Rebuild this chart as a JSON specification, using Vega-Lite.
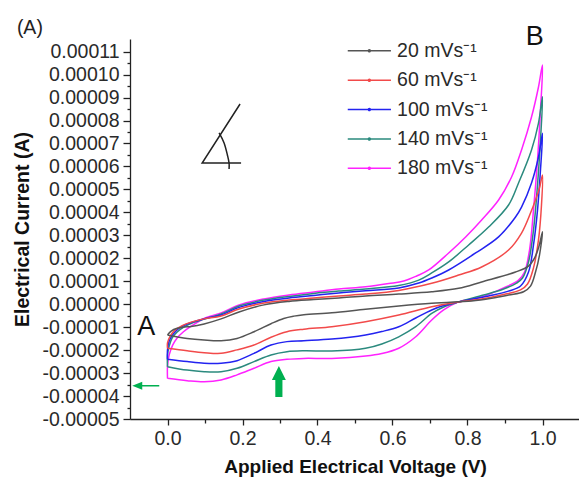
{
  "$schema": "https://vega.github.io/schema/vega-lite/v6.json",
  "width": 450,
  "height": 380,
  "autosize": {"type": "none"},
  "padding": {"left": 130, "top": 39, "right": 0, "bottom": 64},
  "background": "white",
  "config": {
    "view": {"stroke": null},
    "font": "Liberation Sans",
    "text": {"font": "Liberation Sans"}
  },
  "datasets": {
    "cv": [
      {"rate":"180 mVs⁻¹","i":0,"V":0,"I":-3.23e-5},
      {"rate":"180 mVs⁻¹","i":1,"V":0,"I":-2.69e-5},
      {"rate":"180 mVs⁻¹","i":2,"V":0.0045,"I":-2.21e-5},
      {"rate":"180 mVs⁻¹","i":3,"V":0.0138,"I":-1.78e-5},
      {"rate":"180 mVs⁻¹","i":4,"V":0.0258,"I":-1.47e-5},
      {"rate":"180 mVs⁻¹","i":5,"V":0.0418,"I":-1.21e-5},
      {"rate":"180 mVs⁻¹","i":6,"V":0.0604,"I":-0.99e-5},
      {"rate":"180 mVs⁻¹","i":7,"V":0.1003,"I":-0.60e-5},
      {"rate":"180 mVs⁻¹","i":8,"V":0.1429,"I":-0.38e-5},
      {"rate":"180 mVs⁻¹","i":9,"V":0.1908,"I":-0.03e-5},
      {"rate":"180 mVs⁻¹","i":10,"V":0.2573,"I":0.23e-5},
      {"rate":"180 mVs⁻¹","i":11,"V":0.3238,"I":0.40e-5},
      {"rate":"180 mVs⁻¹","i":12,"V":0.3903,"I":0.53e-5},
      {"rate":"180 mVs⁻¹","i":13,"V":0.4568,"I":0.66e-5},
      {"rate":"180 mVs⁻¹","i":14,"V":0.5281,"I":0.76e-5},
      {"rate":"180 mVs⁻¹","i":15,"V":0.5901,"I":0.90e-5},
      {"rate":"180 mVs⁻¹","i":16,"V":0.63,"I":1.01e-5},
      {"rate":"180 mVs⁻¹","i":17,"V":0.6646,"I":1.23e-5},
      {"rate":"180 mVs⁻¹","i":18,"V":0.6966,"I":1.49e-5},
      {"rate":"180 mVs⁻¹","i":19,"V":0.7498,"I":2.23e-5},
      {"rate":"180 mVs⁻¹","i":20,"V":0.7951,"I":2.93e-5},
      {"rate":"180 mVs⁻¹","i":21,"V":0.8377,"I":3.67e-5},
      {"rate":"180 mVs⁻¹","i":22,"V":0.8829,"I":4.54e-5},
      {"rate":"180 mVs⁻¹","i":23,"V":0.9175,"I":5.54e-5},
      {"rate":"180 mVs⁻¹","i":24,"V":0.9441,"I":6.72e-5},
      {"rate":"180 mVs⁻¹","i":25,"V":0.9707,"I":8.15e-5},
      {"rate":"180 mVs⁻¹","i":26,"V":0.9893,"I":9.46e-5},
      {"rate":"180 mVs⁻¹","i":27,"V":1.0,"I":10.42e-5},
      {"rate":"180 mVs⁻¹","i":28,"V":0.9946,"I":8.46e-5},
      {"rate":"180 mVs⁻¹","i":29,"V":0.9867,"I":6.28e-5},
      {"rate":"180 mVs⁻¹","i":30,"V":0.976,"I":4.10e-5},
      {"rate":"180 mVs⁻¹","i":31,"V":0.9654,"I":2.36e-5},
      {"rate":"180 mVs⁻¹","i":32,"V":0.9521,"I":1.40e-5},
      {"rate":"180 mVs⁻¹","i":33,"V":0.9361,"I":1.05e-5},
      {"rate":"180 mVs⁻¹","i":34,"V":0.8962,"I":0.71e-5},
      {"rate":"180 mVs⁻¹","i":35,"V":0.8377,"I":0.31e-5},
      {"rate":"180 mVs⁻¹","i":36,"V":0.7765,"I":0.10e-5},
      {"rate":"180 mVs⁻¹","i":37,"V":0.7365,"I":-0.25e-5},
      {"rate":"180 mVs⁻¹","i":38,"V":0.7046,"I":-0.69e-5},
      {"rate":"180 mVs⁻¹","i":39,"V":0.662,"I":-1.42e-5},
      {"rate":"180 mVs⁻¹","i":40,"V":0.6167,"I":-1.92e-5},
      {"rate":"180 mVs⁻¹","i":41,"V":0.5715,"I":-2.15e-5},
      {"rate":"180 mVs⁻¹","i":42,"V":0.5281,"I":-2.26e-5},
      {"rate":"180 mVs⁻¹","i":43,"V":0.4382,"I":-2.36e-5},
      {"rate":"180 mVs⁻¹","i":44,"V":0.3637,"I":-2.36e-5},
      {"rate":"180 mVs⁻¹","i":45,"V":0.3185,"I":-2.40e-5},
      {"rate":"180 mVs⁻¹","i":46,"V":0.276,"I":-2.50e-5},
      {"rate":"180 mVs⁻¹","i":47,"V":0.2307,"I":-2.79e-5},
      {"rate":"180 mVs⁻¹","i":48,"V":0.1855,"I":-3.08e-5},
      {"rate":"180 mVs⁻¹","i":49,"V":0.1429,"I":-3.30e-5},
      {"rate":"180 mVs⁻¹","i":50,"V":0.0977,"I":-3.38e-5},
      {"rate":"180 mVs⁻¹","i":51,"V":0.0524,"I":-3.33e-5},
      {"rate":"180 mVs⁻¹","i":52,"V":0,"I":-3.23e-5},

      {"rate":"140 mVs⁻¹","i":0,"V":0,"I":-2.72e-5},
      {"rate":"140 mVs⁻¹","i":1,"V":0,"I":-2.21e-5},
      {"rate":"140 mVs⁻¹","i":2,"V":0.0045,"I":-1.82e-5},
      {"rate":"140 mVs⁻¹","i":3,"V":0.0125,"I":-1.47e-5},
      {"rate":"140 mVs⁻¹","i":4,"V":0.0258,"I":-1.21e-5},
      {"rate":"140 mVs⁻¹","i":5,"V":0.0445,"I":-0.99e-5},
      {"rate":"140 mVs⁻¹","i":6,"V":0.0657,"I":-0.82e-5},
      {"rate":"140 mVs⁻¹","i":7,"V":0.1003,"I":-0.64e-5},
      {"rate":"140 mVs⁻¹","i":8,"V":0.1429,"I":-0.43e-5},
      {"rate":"140 mVs⁻¹","i":9,"V":0.1908,"I":-0.08e-5},
      {"rate":"140 mVs⁻¹","i":10,"V":0.2573,"I":0.18e-5},
      {"rate":"140 mVs⁻¹","i":11,"V":0.3238,"I":0.34e-5},
      {"rate":"140 mVs⁻¹","i":12,"V":0.3903,"I":0.47e-5},
      {"rate":"140 mVs⁻¹","i":13,"V":0.4568,"I":0.57e-5},
      {"rate":"140 mVs⁻¹","i":14,"V":0.5281,"I":0.66e-5},
      {"rate":"140 mVs⁻¹","i":15,"V":0.6167,"I":0.81e-5},
      {"rate":"140 mVs⁻¹","i":16,"V":0.67,"I":1.05e-5},
      {"rate":"140 mVs⁻¹","i":17,"V":0.7046,"I":1.36e-5},
      {"rate":"140 mVs⁻¹","i":18,"V":0.7498,"I":1.84e-5},
      {"rate":"140 mVs⁻¹","i":19,"V":0.8031,"I":2.58e-5},
      {"rate":"140 mVs⁻¹","i":20,"V":0.8563,"I":3.36e-5},
      {"rate":"140 mVs⁻¹","i":21,"V":0.9095,"I":4.32e-5},
      {"rate":"140 mVs⁻¹","i":22,"V":0.9361,"I":5.28e-5},
      {"rate":"140 mVs⁻¹","i":23,"V":0.9707,"I":6.72e-5},
      {"rate":"140 mVs⁻¹","i":24,"V":0.9893,"I":7.89e-5},
      {"rate":"140 mVs⁻¹","i":25,"V":1.0,"I":9.04e-5},
      {"rate":"140 mVs⁻¹","i":26,"V":0.9946,"I":7.15e-5},
      {"rate":"140 mVs⁻¹","i":27,"V":0.9867,"I":5.19e-5},
      {"rate":"140 mVs⁻¹","i":28,"V":0.976,"I":3.23e-5},
      {"rate":"140 mVs⁻¹","i":29,"V":0.9627,"I":1.84e-5},
      {"rate":"140 mVs⁻¹","i":30,"V":0.9467,"I":1.14e-5},
      {"rate":"140 mVs⁻¹","i":31,"V":0.9308,"I":0.92e-5},
      {"rate":"140 mVs⁻¹","i":32,"V":0.8962,"I":0.66e-5},
      {"rate":"140 mVs⁻¹","i":33,"V":0.843,"I":0.40e-5},
      {"rate":"140 mVs⁻¹","i":34,"V":0.7765,"I":0.10e-5},
      {"rate":"140 mVs⁻¹","i":35,"V":0.7365,"I":-0.12e-5},
      {"rate":"140 mVs⁻¹","i":36,"V":0.7046,"I":-0.40e-5},
      {"rate":"140 mVs⁻¹","i":37,"V":0.662,"I":-0.98e-5},
      {"rate":"140 mVs⁻¹","i":38,"V":0.6167,"I":-1.42e-5},
      {"rate":"140 mVs⁻¹","i":39,"V":0.5715,"I":-1.73e-5},
      {"rate":"140 mVs⁻¹","i":40,"V":0.5281,"I":-1.92e-5},
      {"rate":"140 mVs⁻¹","i":41,"V":0.4382,"I":-2.04e-5},
      {"rate":"140 mVs⁻¹","i":42,"V":0.3637,"I":-2.03e-5},
      {"rate":"140 mVs⁻¹","i":43,"V":0.3185,"I":-2.07e-5},
      {"rate":"140 mVs⁻¹","i":44,"V":0.276,"I":-2.21e-5},
      {"rate":"140 mVs⁻¹","i":45,"V":0.2307,"I":-2.50e-5},
      {"rate":"140 mVs⁻¹","i":46,"V":0.1855,"I":-2.79e-5},
      {"rate":"140 mVs⁻¹","i":47,"V":0.1429,"I":-2.94e-5},
      {"rate":"140 mVs⁻¹","i":48,"V":0.0977,"I":-2.94e-5},
      {"rate":"140 mVs⁻¹","i":49,"V":0.0524,"I":-2.87e-5},
      {"rate":"140 mVs⁻¹","i":50,"V":0,"I":-2.72e-5},

      {"rate":"100 mVs⁻¹","i":0,"V":0,"I":-2.40e-5},
      {"rate":"100 mVs⁻¹","i":1,"V":0,"I":-1.99e-5},
      {"rate":"100 mVs⁻¹","i":2,"V":0.0045,"I":-1.60e-5},
      {"rate":"100 mVs⁻¹","i":3,"V":0.0152,"I":-1.30e-5},
      {"rate":"100 mVs⁻¹","i":4,"V":0.0311,"I":-1.04e-5},
      {"rate":"100 mVs⁻¹","i":5,"V":0.0524,"I":-0.86e-5},
      {"rate":"100 mVs⁻¹","i":6,"V":0.0764,"I":-0.73e-5},
      {"rate":"100 mVs⁻¹","i":7,"V":0.1057,"I":-0.60e-5},
      {"rate":"100 mVs⁻¹","i":8,"V":0.1429,"I":-0.47e-5},
      {"rate":"100 mVs⁻¹","i":9,"V":0.1908,"I":-0.14e-5},
      {"rate":"100 mVs⁻¹","i":10,"V":0.2573,"I":0.12e-5},
      {"rate":"100 mVs⁻¹","i":11,"V":0.3238,"I":0.27e-5},
      {"rate":"100 mVs⁻¹","i":12,"V":0.3903,"I":0.38e-5},
      {"rate":"100 mVs⁻¹","i":13,"V":0.4568,"I":0.49e-5},
      {"rate":"100 mVs⁻¹","i":14,"V":0.5281,"I":0.59e-5},
      {"rate":"100 mVs⁻¹","i":15,"V":0.6167,"I":0.71e-5},
      {"rate":"100 mVs⁻¹","i":16,"V":0.67,"I":0.92e-5},
      {"rate":"100 mVs⁻¹","i":17,"V":0.7046,"I":1.14e-5},
      {"rate":"100 mVs⁻¹","i":18,"V":0.7498,"I":1.49e-5},
      {"rate":"100 mVs⁻¹","i":19,"V":0.8217,"I":2.23e-5},
      {"rate":"100 mVs⁻¹","i":20,"V":0.8829,"I":2.93e-5},
      {"rate":"100 mVs⁻¹","i":21,"V":0.9281,"I":3.80e-5},
      {"rate":"100 mVs⁻¹","i":22,"V":0.9441,"I":4.23e-5},
      {"rate":"100 mVs⁻¹","i":23,"V":0.9707,"I":5.28e-5},
      {"rate":"100 mVs⁻¹","i":24,"V":0.9893,"I":6.41e-5},
      {"rate":"100 mVs⁻¹","i":25,"V":1.0,"I":7.44e-5},
      {"rate":"100 mVs⁻¹","i":26,"V":0.9946,"I":5.84e-5},
      {"rate":"100 mVs⁻¹","i":27,"V":0.9867,"I":4.10e-5},
      {"rate":"100 mVs⁻¹","i":28,"V":0.976,"I":2.58e-5},
      {"rate":"100 mVs⁻¹","i":29,"V":0.9627,"I":1.40e-5},
      {"rate":"100 mVs⁻¹","i":30,"V":0.9414,"I":0.79e-5},
      {"rate":"100 mVs⁻¹","i":31,"V":0.9095,"I":0.57e-5},
      {"rate":"100 mVs⁻¹","i":32,"V":0.8563,"I":0.36e-5},
      {"rate":"100 mVs⁻¹","i":33,"V":0.7765,"I":0.10e-5},
      {"rate":"100 mVs⁻¹","i":34,"V":0.7365,"I":-0.06e-5},
      {"rate":"100 mVs⁻¹","i":35,"V":0.7046,"I":-0.25e-5},
      {"rate":"100 mVs⁻¹","i":36,"V":0.662,"I":-0.60e-5},
      {"rate":"100 mVs⁻¹","i":37,"V":0.6167,"I":-0.98e-5},
      {"rate":"100 mVs⁻¹","i":38,"V":0.5715,"I":-1.19e-5},
      {"rate":"100 mVs⁻¹","i":39,"V":0.5281,"I":-1.34e-5},
      {"rate":"100 mVs⁻¹","i":40,"V":0.4382,"I":-1.52e-5},
      {"rate":"100 mVs⁻¹","i":41,"V":0.3637,"I":-1.59e-5},
      {"rate":"100 mVs⁻¹","i":42,"V":0.3185,"I":-1.63e-5},
      {"rate":"100 mVs⁻¹","i":43,"V":0.276,"I":-1.78e-5},
      {"rate":"100 mVs⁻¹","i":44,"V":0.2307,"I":-2.14e-5},
      {"rate":"100 mVs⁻¹","i":45,"V":0.1855,"I":-2.46e-5},
      {"rate":"100 mVs⁻¹","i":46,"V":0.1429,"I":-2.57e-5},
      {"rate":"100 mVs⁻¹","i":47,"V":0.0977,"I":-2.57e-5},
      {"rate":"100 mVs⁻¹","i":48,"V":0.0524,"I":-2.50e-5},
      {"rate":"100 mVs⁻¹","i":49,"V":0,"I":-2.40e-5},

      {"rate":"60 mVs⁻¹","i":0,"V":0,"I":-1.92e-5},
      {"rate":"60 mVs⁻¹","i":1,"V":0,"I":-1.69e-5},
      {"rate":"60 mVs⁻¹","i":2,"V":0.0072,"I":-1.39e-5},
      {"rate":"60 mVs⁻¹","i":3,"V":0.0205,"I":-1.12e-5},
      {"rate":"60 mVs⁻¹","i":4,"V":0.0391,"I":-0.93e-5},
      {"rate":"60 mVs⁻¹","i":5,"V":0.0631,"I":-0.78e-5},
      {"rate":"60 mVs⁻¹","i":6,"V":0.0977,"I":-0.64e-5},
      {"rate":"60 mVs⁻¹","i":7,"V":0.1429,"I":-0.51e-5},
      {"rate":"60 mVs⁻¹","i":8,"V":0.1908,"I":-0.21e-5},
      {"rate":"60 mVs⁻¹","i":9,"V":0.2573,"I":0.05e-5},
      {"rate":"60 mVs⁻¹","i":10,"V":0.3238,"I":0.18e-5},
      {"rate":"60 mVs⁻¹","i":11,"V":0.3903,"I":0.27e-5},
      {"rate":"60 mVs⁻¹","i":12,"V":0.4568,"I":0.36e-5},
      {"rate":"60 mVs⁻¹","i":13,"V":0.5281,"I":0.44e-5},
      {"rate":"60 mVs⁻¹","i":14,"V":0.6167,"I":0.60e-5},
      {"rate":"60 mVs⁻¹","i":15,"V":0.7046,"I":0.91e-5},
      {"rate":"60 mVs⁻¹","i":16,"V":0.7765,"I":1.27e-5},
      {"rate":"60 mVs⁻¹","i":17,"V":0.8377,"I":1.62e-5},
      {"rate":"60 mVs⁻¹","i":18,"V":0.9095,"I":2.36e-5},
      {"rate":"60 mVs⁻¹","i":19,"V":0.9441,"I":3.10e-5},
      {"rate":"60 mVs⁻¹","i":20,"V":0.968,"I":3.97e-5},
      {"rate":"60 mVs⁻¹","i":21,"V":0.9814,"I":4.54e-5},
      {"rate":"60 mVs⁻¹","i":22,"V":0.992,"I":5.06e-5},
      {"rate":"60 mVs⁻¹","i":23,"V":1.0,"I":5.63e-5},
      {"rate":"60 mVs⁻¹","i":24,"V":0.9973,"I":4.32e-5},
      {"rate":"60 mVs⁻¹","i":25,"V":0.9893,"I":2.80e-5},
      {"rate":"60 mVs⁻¹","i":26,"V":0.976,"I":1.58e-5},
      {"rate":"60 mVs⁻¹","i":27,"V":0.9601,"I":0.88e-5},
      {"rate":"60 mVs⁻¹","i":28,"V":0.9414,"I":0.62e-5},
      {"rate":"60 mVs⁻¹","i":29,"V":0.8962,"I":0.42e-5},
      {"rate":"60 mVs⁻¹","i":30,"V":0.8297,"I":0.20e-5},
      {"rate":"60 mVs⁻¹","i":31,"V":0.7765,"I":0.10e-5},
      {"rate":"60 mVs⁻¹","i":32,"V":0.7046,"I":-0.11e-5},
      {"rate":"60 mVs⁻¹","i":33,"V":0.6167,"I":-0.47e-5},
      {"rate":"60 mVs⁻¹","i":34,"V":0.5281,"I":-0.76e-5},
      {"rate":"60 mVs⁻¹","i":35,"V":0.4382,"I":-0.98e-5},
      {"rate":"60 mVs⁻¹","i":36,"V":0.3637,"I":-1.09e-5},
      {"rate":"60 mVs⁻¹","i":37,"V":0.3185,"I":-1.20e-5},
      {"rate":"60 mVs⁻¹","i":38,"V":0.276,"I":-1.44e-5},
      {"rate":"60 mVs⁻¹","i":39,"V":0.2307,"I":-1.78e-5},
      {"rate":"60 mVs⁻¹","i":40,"V":0.1855,"I":-1.99e-5},
      {"rate":"60 mVs⁻¹","i":41,"V":0.1429,"I":-2.14e-5},
      {"rate":"60 mVs⁻¹","i":42,"V":0.0977,"I":-2.11e-5},
      {"rate":"60 mVs⁻¹","i":43,"V":0.0524,"I":-2.03e-5},
      {"rate":"60 mVs⁻¹","i":44,"V":0,"I":-1.92e-5},

      {"rate":"20 mVs⁻¹","i":0,"V":0,"I":-1.34e-5},
      {"rate":"20 mVs⁻¹","i":1,"V":0.0098,"I":-1.17e-5},
      {"rate":"20 mVs⁻¹","i":2,"V":0.0258,"I":-1.05e-5},
      {"rate":"20 mVs⁻¹","i":3,"V":0.0445,"I":-0.99e-5},
      {"rate":"20 mVs⁻¹","i":4,"V":0.0631,"I":-0.97e-5},
      {"rate":"20 mVs⁻¹","i":5,"V":0.0977,"I":-0.86e-5},
      {"rate":"20 mVs⁻¹","i":6,"V":0.1429,"I":-0.64e-5},
      {"rate":"20 mVs⁻¹","i":7,"V":0.1908,"I":-0.34e-5},
      {"rate":"20 mVs⁻¹","i":8,"V":0.2573,"I":-0.03e-5},
      {"rate":"20 mVs⁻¹","i":9,"V":0.3238,"I":0.12e-5},
      {"rate":"20 mVs⁻¹","i":10,"V":0.3903,"I":0.20e-5},
      {"rate":"20 mVs⁻¹","i":11,"V":0.4568,"I":0.27e-5},
      {"rate":"20 mVs⁻¹","i":12,"V":0.5281,"I":0.36e-5},
      {"rate":"20 mVs⁻¹","i":13,"V":0.6167,"I":0.44e-5},
      {"rate":"20 mVs⁻¹","i":14,"V":0.7046,"I":0.54e-5},
      {"rate":"20 mVs⁻¹","i":15,"V":0.7765,"I":0.69e-5},
      {"rate":"20 mVs⁻¹","i":16,"V":0.8377,"I":0.97e-5},
      {"rate":"20 mVs⁻¹","i":17,"V":0.9281,"I":1.40e-5},
      {"rate":"20 mVs⁻¹","i":18,"V":0.9627,"I":1.66e-5},
      {"rate":"20 mVs⁻¹","i":19,"V":0.9787,"I":2.01e-5},
      {"rate":"20 mVs⁻¹","i":20,"V":0.9893,"I":2.45e-5},
      {"rate":"20 mVs⁻¹","i":21,"V":1.0,"I":3.16e-5},
      {"rate":"20 mVs⁻¹","i":22,"V":0.992,"I":2.14e-5},
      {"rate":"20 mVs⁻¹","i":23,"V":0.9814,"I":1.40e-5},
      {"rate":"20 mVs⁻¹","i":24,"V":0.968,"I":0.79e-5},
      {"rate":"20 mVs⁻¹","i":25,"V":0.9494,"I":0.54e-5},
      {"rate":"20 mVs⁻¹","i":26,"V":0.9095,"I":0.40e-5},
      {"rate":"20 mVs⁻¹","i":27,"V":0.8643,"I":0.26e-5},
      {"rate":"20 mVs⁻¹","i":28,"V":0.8111,"I":0.14e-5},
      {"rate":"20 mVs⁻¹","i":29,"V":0.7765,"I":0.11e-5},
      {"rate":"20 mVs⁻¹","i":30,"V":0.7046,"I":0.04e-5},
      {"rate":"20 mVs⁻¹","i":31,"V":0.6167,"I":-0.08e-5},
      {"rate":"20 mVs⁻¹","i":32,"V":0.5281,"I":-0.22e-5},
      {"rate":"20 mVs⁻¹","i":33,"V":0.4382,"I":-0.37e-5},
      {"rate":"20 mVs⁻¹","i":34,"V":0.3637,"I":-0.46e-5},
      {"rate":"20 mVs⁻¹","i":35,"V":0.3370,"I":-0.52e-5},
      {"rate":"20 mVs⁻¹","i":36,"V":0.3100,"I":-0.62e-5},
      {"rate":"20 mVs⁻¹","i":37,"V":0.276,"I":-0.85e-5},
      {"rate":"20 mVs⁻¹","i":38,"V":0.2307,"I":-1.20e-5},
      {"rate":"20 mVs⁻¹","i":39,"V":0.1855,"I":-1.49e-5},
      {"rate":"20 mVs⁻¹","i":40,"V":0.1429,"I":-1.59e-5},
      {"rate":"20 mVs⁻¹","i":41,"V":0.0977,"I":-1.56e-5},
      {"rate":"20 mVs⁻¹","i":42,"V":0.0524,"I":-1.49e-5},
      {"rate":"20 mVs⁻¹","i":43,"V":0,"I":-1.34e-5}
    ],
    "angle": [
      {"seg":"a","i":0,"V":0.1935,"I":8.72e-5},
      {"seg":"a","i":1,"V":0.0924,"I":6.15e-5},
      {"seg":"a","i":2,"V":0.1962,"I":6.15e-5}
    ],
    "arc": [
      {"i":0,"V":0.1376,"I":7.46e-5},
      {"i":1,"V":0.1509,"I":7.02e-5},
      {"i":2,"V":0.1597,"I":6.50e-5},
      {"i":3,"V":0.1642,"I":6.15e-5},
      {"i":4,"V":0.1642,"I":5.89e-5}
    ]
  },
  "encoding": {
    "x": {
      "field": "V", "type": "quantitative",
      "scale": {"domain": [-0.1, 1.1], "nice": false, "zero": false},
      "axis": {
        "title": "Applied Electrical Voltage (V)",
        "values": [0, 0.1, 0.2, 0.3, 0.4, 0.5, 0.6, 0.7, 0.8, 0.9, 1.0],
        "labelExpr": "round(datum.value*10) % 2 == 1 ? '' : format(datum.value, '.1f')",
        "tickSize": {"condition": {"test": "round(datum.value*10) % 2 == 1", "value": 4}, "value": 6},
        "grid": false,
        "labelFont": "Liberation Sans", "labelFontSize": 19.5, "labelColor": "#2a2a2a",
        "labelPadding": 4, "labelFlush": false, "labelOverlap": false,
        "titleFont": "Liberation Sans", "titleFontSize": 19, "titleFontWeight": "bold", "titleColor": "#111",
        "titlePadding": 10,
        "domainColor": "#222", "tickColor": "#222", "domainWidth": 1.3, "tickWidth": 1.3
      }
    },
    "y": {
      "field": "I", "type": "quantitative",
      "scale": {"domain": [-0.00005, 0.0001155], "nice": false, "zero": false},
      "axis": {
        "title": "Electrical Current (A)",
        "values": [-5e-5, -4.5e-5, -4e-5, -3.5e-5, -3e-5, -2.5e-5, -2e-5, -1.5e-5, -1e-5, -0.5e-5, 0, 0.5e-5, 1e-5, 1.5e-5, 2e-5, 2.5e-5, 3e-5, 3.5e-5, 4e-5, 4.5e-5, 5e-5, 5.5e-5, 6e-5, 6.5e-5, 7e-5, 7.5e-5, 8e-5, 8.5e-5, 9e-5, 9.5e-5, 10e-5, 10.5e-5, 11e-5],
        "labelExpr": "abs(round(datum.value*1e6)) % 10 == 5 ? '' : replace(format(datum.value, '.5f'), '−', '-')",
        "tickSize": {"condition": {"test": "abs(round(datum.value*1e6)) % 10 == 5", "value": 3}, "value": 7},
        "grid": false,
        "labelFont": "Liberation Sans", "labelFontSize": 19.5, "labelColor": "#2a2a2a",
        "labelPadding": 4, "labelFlush": false, "labelOverlap": false,
        "titleFont": "Liberation Sans", "titleFontSize": 19.5, "titleFontWeight": "bold", "titleColor": "#111",
        "titlePadding": 10,
        "domainColor": "#222", "tickColor": "#222", "domainWidth": 1.3, "tickWidth": 1.3
      }
    }
  },
  "layer": [
    {
      "data": {"name": "cv"},
      "mark": {"type": "line", "strokeWidth": 1.5, "interpolate": "catmull-rom", "clip": false},
      "encoding": {
        "order": {"field": "i", "type": "quantitative"},
        "color": {
          "field": "rate", "type": "nominal",
          "scale": {
            "domain": ["20 mVs⁻¹", "60 mVs⁻¹", "100 mVs⁻¹", "140 mVs⁻¹", "180 mVs⁻¹"],
            "range": ["#555555", "#f24a4a", "#2323f0", "#2b8a7e", "#ff22ff"]
          },
          "legend": {
            "orient": "none", "legendX": 229.6, "legendY": 2,
            "title": null, "padding": 0,
            "symbolType": "M-5.4,0L5.4,0M-0.25,0A0.25,0.25 0 1,0 0.25,0A0.25,0.25 0 1,0 -0.25,0",
            "symbolSize": 64, "symbolStrokeWidth": 1.5,
            "labelFont": "Liberation Sans", "labelFontSize": 19.5, "labelColor": "#2a2a2a",
            "labelOffset": 18, "rowPadding": 8.4
          }
        }
      }
    },
    {
      "data": {"name": "angle"},
      "mark": {"type": "line", "color": "#222", "strokeWidth": 1.5},
      "encoding": {"order": {"field": "i", "type": "quantitative"}}
    },
    {
      "data": {"name": "arc"},
      "mark": {"type": "line", "color": "#222", "strokeWidth": 1.5, "interpolate": "natural"},
      "encoding": {"order": {"field": "i", "type": "quantitative"}}
    },
    {
      "data": {"values": [{"V": -0.058, "I": -3.55e-5}]},
      "mark": {"type": "point", "filled": true, "color": "#00b050", "opacity": 1, "size": 729,
               "shape": "M-1,0L-0.26,-0.3L-0.26,-0.055L1,-0.055L1,0.055L-0.26,0.055L-0.26,0.3Z"}
    },
    {
      "data": {"values": [{"V": 0.297, "I": -3.37e-5}]},
      "mark": {"type": "point", "filled": true, "color": "#00b050", "opacity": 1, "size": 961,
               "shape": "M0,-1L0.45,-0.1L0.23,-0.1L0.23,1L-0.23,1L-0.23,-0.1L-0.45,-0.1Z"}
    },
    {
      "data": {"values": [{"label": "(A)", "V": -0.367, "I": 12.01e-5}]},
      "mark": {"type": "text", "fontSize": 19.5, "color": "#222", "align": "center", "baseline": "middle"},
      "encoding": {"text": {"field": "label"}}
    },
    {
      "data": {"values": [{"label": "A", "V": -0.0567, "I": -0.99e-5}, {"label": "B", "V": 0.979, "I": 11.64e-5}]},
      "mark": {"type": "text", "fontSize": 27, "color": "#111", "align": "center", "baseline": "middle"},
      "encoding": {"text": {"field": "label"}}
    }
  ]
}
